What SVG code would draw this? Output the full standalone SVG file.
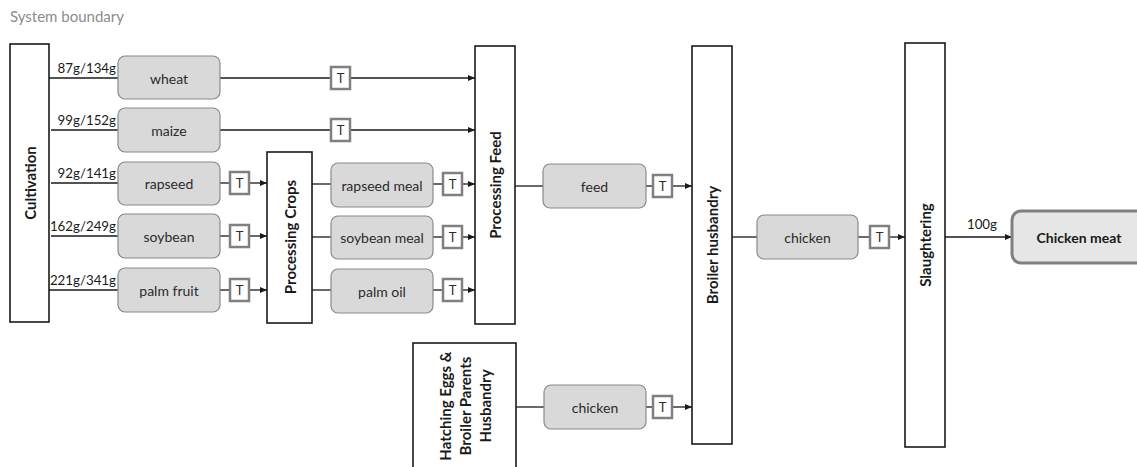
<svg xmlns="http://www.w3.org/2000/svg" width="1137" height="467" viewBox="0 0 1137 467">
<defs>
<marker id="arr" markerUnits="userSpaceOnUse" markerWidth="7" markerHeight="6" refX="7" refY="3" orient="auto"><path d="M0,0 L7,3 L0,6 z" fill="#1a1a1a"/></marker>
<style>
.proc{fill:#fff;stroke:#1a1a1a;stroke-width:1.6}
.item{fill:#d9d9d9;stroke:#8a8a8a;stroke-width:1.2}
.t{fill:#fff;stroke:#808080;stroke-width:2.5}
.ptxt{font-family:Lato,"Liberation Sans",sans-serif;font-weight:bold;font-size:15px;fill:#1a1a1a;text-anchor:middle;dominant-baseline:central}
.itxt{font-family:Lato,"Liberation Sans",sans-serif;font-size:14px;fill:#2b2b2b;text-anchor:middle;dominant-baseline:central}
.ttxt{font-family:Lato,"Liberation Sans",sans-serif;font-size:13px;fill:#2b2b2b;text-anchor:middle;dominant-baseline:central}
.lbl{font-family:Lato,"Liberation Sans",sans-serif;font-size:13.3px;fill:#1a1a1a;text-anchor:end}
.conn line{stroke:#1a1a1a;stroke-width:1.3}
.arrow{marker-end:url(#arr)}
</style>
</defs>
<rect width="1137" height="467" fill="#fff"/>
<text x="10" y="22" font-family="Lato,'Liberation Sans',sans-serif" font-size="15" fill="#8c8c8c">System boundary</text>

<g id="connectors" class="conn">
<line x1="49" y1="78" x2="118" y2="78"/>
<line x1="220" y1="78" x2="331" y2="78"/>
<line class="arrow" x1="350" y1="78" x2="475" y2="78"/>
<line x1="51" y1="130" x2="118" y2="130"/>
<line x1="220" y1="130" x2="331" y2="130"/>
<line class="arrow" x1="350" y1="130" x2="475" y2="130"/>
<line x1="51" y1="183" x2="118" y2="183"/>
<line x1="220" y1="183" x2="230" y2="183"/>
<line class="arrow" x1="249" y1="183" x2="267" y2="183"/>
<line x1="51" y1="236" x2="118" y2="236"/>
<line x1="220" y1="236" x2="230" y2="236"/>
<line class="arrow" x1="249" y1="236" x2="267" y2="236"/>
<line x1="49" y1="290" x2="118" y2="290"/>
<line x1="220" y1="290" x2="230" y2="290"/>
<line class="arrow" x1="249" y1="290" x2="267" y2="290"/>
<line x1="312" y1="184" x2="331" y2="184"/>
<line x1="433" y1="184" x2="443" y2="184"/>
<line class="arrow" x1="462" y1="184" x2="475" y2="184"/>
<line x1="312" y1="237" x2="331" y2="237"/>
<line x1="433" y1="237" x2="443" y2="237"/>
<line class="arrow" x1="462" y1="237" x2="475" y2="237"/>
<line x1="312" y1="290" x2="331" y2="290"/>
<line x1="433" y1="290" x2="443" y2="290"/>
<line class="arrow" x1="462" y1="290" x2="475" y2="290"/>
<line x1="515" y1="186" x2="543" y2="186"/>
<line x1="646" y1="186" x2="653" y2="186"/>
<line class="arrow" x1="672" y1="186" x2="692" y2="186"/>
<line x1="732" y1="237" x2="757" y2="237"/>
<line x1="858" y1="237" x2="870" y2="237"/>
<line class="arrow" x1="889" y1="237" x2="905" y2="237"/>
<line class="arrow" x1="945" y1="237" x2="1012" y2="237"/>
<line x1="516" y1="407" x2="544" y2="407"/>
<line x1="646" y1="407" x2="653" y2="407"/>
<line class="arrow" x1="672" y1="407" x2="692" y2="407"/>
</g>

<g id="flow-labels">
<text class="lbl" x="116" y="73">87g/134g</text>
<text class="lbl" x="116" y="125">99g/152g</text>
<text class="lbl" x="116" y="178">92g/141g</text>
<text class="lbl" x="116" y="231">162g/249g</text>
<text class="lbl" x="116" y="285">221g/341g</text>
<text class="lbl" x="997" y="229">100g</text>
</g>

<g id="cultivation"><rect class="proc" x="10" y="44" width="39" height="278"/><text class="ptxt" transform="translate(30,183) rotate(-90)">Cultivation</text></g>
<g id="processing-crops"><rect class="proc" x="267" y="152" width="45" height="171"/><text class="ptxt" transform="translate(290,237) rotate(-90)">Processing Crops</text></g>
<g id="processing-feed"><rect class="proc" x="475" y="46" width="40" height="278"/><text class="ptxt" transform="translate(495,185) rotate(-90)">Processing Feed</text></g>
<g id="broiler-husbandry"><rect class="proc" x="692" y="46" width="40" height="398"/><text class="ptxt" transform="translate(712,245) rotate(-90)">Broiler husbandry</text></g>
<g id="slaughtering"><rect class="proc" x="905" y="43" width="40" height="404"/><text class="ptxt" transform="translate(925,245) rotate(-90)">Slaughtering</text></g>
<g id="hatching"><rect class="proc" x="413" y="343" width="103" height="140"/><text class="ptxt" transform="translate(465,406) rotate(-90)"><tspan x="0" dy="-20">Hatching Eggs &amp;</tspan><tspan x="0" dy="20">Broiler Parents</tspan><tspan x="0" dy="20">Husbandry</tspan></text></g>

<g id="wheat"><rect class="item" x="118" y="56" width="102" height="43" rx="7"/><text class="itxt" x="169" y="78">wheat</text></g>
<g id="maize"><rect class="item" x="118" y="108" width="102" height="44" rx="7"/><text class="itxt" x="169" y="130">maize</text></g>
<g id="rapseed"><rect class="item" x="118" y="162" width="102" height="43" rx="7"/><text class="itxt" x="169" y="183">rapseed</text></g>
<g id="soybean"><rect class="item" x="118" y="214" width="102" height="44" rx="7"/><text class="itxt" x="169" y="236">soybean</text></g>
<g id="palm-fruit"><rect class="item" x="118" y="268" width="102" height="44" rx="7"/><text class="itxt" x="169" y="290">palm fruit</text></g>
<g id="rapseed-meal"><rect class="item" x="331" y="163" width="102" height="44" rx="7"/><text class="itxt" x="382" y="185">rapseed meal</text></g>
<g id="soybean-meal"><rect class="item" x="331" y="216" width="102" height="43" rx="7"/><text class="itxt" x="382" y="237">soybean meal</text></g>
<g id="palm-oil"><rect class="item" x="331" y="269" width="102" height="44" rx="7"/><text class="itxt" x="382" y="291">palm oil</text></g>
<g id="feed"><rect class="item" x="543" y="164" width="103" height="44" rx="7"/><text class="itxt" x="594.5" y="186">feed</text></g>
<g id="chicken-1"><rect class="item" x="757" y="215" width="101" height="44" rx="7"/><text class="itxt" x="807.5" y="237">chicken</text></g>
<g id="chicken-2"><rect class="item" x="544" y="385" width="102" height="44" rx="7"/><text class="itxt" x="595" y="407">chicken</text></g>
<g id="chicken-meat"><rect x="1012" y="211" width="134" height="52" rx="9" fill="#e6e6e6" stroke="#808080" stroke-width="3"/><text class="ptxt" style="font-size:14px" x="1079" y="237">Chicken meat</text></g>

<g id="transport">
<g id="t-wheat"><rect class="t" x="331" y="67" width="19" height="22"/><text class="ttxt" x="340.5" y="78">T</text></g>
<g id="t-maize"><rect class="t" x="331" y="119" width="19" height="22"/><text class="ttxt" x="340.5" y="130">T</text></g>
<g id="t-rapseed"><rect class="t" x="230" y="172" width="19" height="22"/><text class="ttxt" x="239.5" y="183">T</text></g>
<g id="t-soybean"><rect class="t" x="230" y="225" width="19" height="22"/><text class="ttxt" x="239.5" y="236">T</text></g>
<g id="t-palm"><rect class="t" x="230" y="279" width="19" height="22"/><text class="ttxt" x="239.5" y="290">T</text></g>
<g id="t-rapseed-meal"><rect class="t" x="443" y="173" width="19" height="22"/><text class="ttxt" x="452.5" y="184">T</text></g>
<g id="t-soybean-meal"><rect class="t" x="443" y="226" width="19" height="22"/><text class="ttxt" x="452.5" y="237">T</text></g>
<g id="t-palm-oil"><rect class="t" x="443" y="279" width="19" height="22"/><text class="ttxt" x="452.5" y="290">T</text></g>
<g id="t-feed"><rect class="t" x="653" y="175" width="19" height="22"/><text class="ttxt" x="662.5" y="186">T</text></g>
<g id="t-chicken-1"><rect class="t" x="870" y="226" width="19" height="22"/><text class="ttxt" x="879.5" y="237">T</text></g>
<g id="t-chicken-2"><rect class="t" x="653" y="396" width="19" height="22"/><text class="ttxt" x="662.5" y="407">T</text></g>
</g>
</svg>
